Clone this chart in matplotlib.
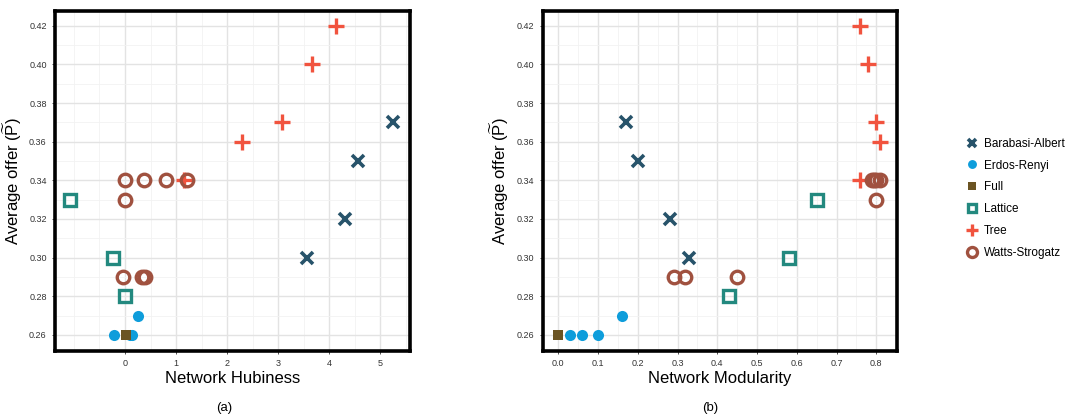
import matplotlib
matplotlib.use('Agg')
import matplotlib.pyplot as plt
from matplotlib.ticker import MultipleLocator, FixedLocator, FormatStrFormatter

plt.rcParams['font.family'] = ['Liberation Sans', 'DejaVu Sans']
plt.rcParams['mathtext.fontset'] = 'custom'
plt.rcParams['mathtext.rm'] = 'Liberation Sans'
plt.rcParams['mathtext.it'] = 'Liberation Sans'

categories = ['Barabasi-Albert', 'Erdos-Renyi', 'Full', 'Lattice', 'Tree', 'Watts-Strogatz']

# hubiness (panel a)
ba_hub = [3.57, 4.31, 4.57, 5.25]
er_hub = [-0.22, 0.10, 0.14, 0.25]
full_hub = [0.01]
lat_hub = [-1.07, -0.24, 0.0]
tree_hub = [1.16, 2.30, 3.07, 3.67, 4.14]
ws_hub = [0.0, 0.37, 0.80, 1.21, 0.0, -0.03, 0.33, 0.40]

# modularity (panel b)
ba_mod = [0.33, 0.28, 0.20, 0.17]
er_mod = [0.03, 0.06, 0.10, 0.16]
full_mod = [0.0]
lat_mod = [0.65, 0.58, 0.43]
tree_mod = [0.76, 0.81, 0.80, 0.78, 0.76]
ws_mod = [0.79, 0.795, 0.80, 0.81, 0.80, 0.29, 0.32, 0.45]

# average offer
ba_y = [0.30, 0.32, 0.35, 0.37]
er_y = [0.26, 0.26, 0.26, 0.27]
full_y = [0.26]
lat_y = [0.33, 0.30, 0.28]
tree_y = [0.34, 0.36, 0.37, 0.40, 0.42]
ws_y = [0.34, 0.34, 0.34, 0.34, 0.33, 0.29, 0.29, 0.29]

hub_ticks = [0, 1, 2, 3, 4, 5]

colors = ['#27536A', '#0E9DDB', '#6B5423', '#23897F', '#F1533E', '#A0513F']
styles = [
    dict(marker='x', ms=8, mew=2.6, mfc='none'),
    dict(marker='o', ms=8, mew=0),
    dict(marker='s', ms=7.5, mew=0),
    dict(marker='s', ms=8, mew=2.4, mfc='none'),
    dict(marker='+', ms=11, mew=2.4),
    dict(marker='o', ms=9, mew=2.4, mfc='none'),
]

hub_x = [ba_hub, er_hub, full_hub, lat_hub, tree_hub, ws_hub]
mod_x = [ba_mod, er_mod, full_mod, lat_mod, tree_mod, ws_mod]
ys = [ba_y, er_y, full_y, lat_y, tree_y, ws_y]

fig = plt.figure(figsize=(10.83, 4.16), dpi=100)
ax1 = fig.add_axes([0.0508, 0.156, 0.3278, 0.8173])
ax2 = fig.add_axes([0.5011, 0.156, 0.3272, 0.8173])

handles = []
for ax, xs in [(ax1, hub_x), (ax2, mod_x)]:
    for i, name in enumerate(categories):
        st = dict(styles[i])
        if st.get('mfc') != 'none':
            st['mfc'] = colors[i]
        h, = ax.plot(xs[i], ys[i], linestyle='none', color=colors[i],
                     mec=colors[i], label=name, zorder=3, **st)
        if ax is ax1:
            handles.append(h)
    ax.set_ylim(0.2516, 0.4276)
    ax.yaxis.set_major_locator(MultipleLocator(0.02))
    ax.yaxis.set_minor_locator(MultipleLocator(0.01))
    ax.yaxis.set_major_formatter(FormatStrFormatter('%.2f'))
    ax.grid(True, which='major', color='#E3E3E3', lw=1.0, zorder=0)
    ax.grid(True, which='minor', color='#F2F2F2', lw=0.6, zorder=0)
    ax.set_axisbelow(True)
    for sp in ax.spines.values():
        sp.set_linewidth(2.6)
        sp.set_color('black')
    ax.tick_params(which='major', labelsize=6.5, length=2.5, width=0.6,
                   color='#333333', labelcolor='#333333')
    ax.tick_params(which='minor', length=0)
    ax.set_ylabel(r'Average offer ($\widetilde{\mathrm{P}}$)', fontsize=12, labelpad=4)

ax1.set_xlim(-1.37, 5.58)
ax1.xaxis.set_major_locator(FixedLocator(hub_ticks))
ax1.xaxis.set_minor_locator(MultipleLocator(0.5))
ax1.set_xlabel('Network Hubiness', fontsize=12, labelpad=2)

ax2.set_xlim(-0.039, 0.852)
ax2.xaxis.set_major_locator(MultipleLocator(0.1))
ax2.xaxis.set_minor_locator(MultipleLocator(0.05))
ax2.xaxis.set_major_formatter(FormatStrFormatter('%.1f'))
ax2.set_xlabel('Network Modularity', fontsize=12, labelpad=2)

fig.legend(handles=handles, loc='center left', bbox_to_anchor=(0.881, 0.5235),
           frameon=False, fontsize=8.5, handletextpad=0.45, labelspacing=0.83,
           handlelength=1.2, markerscale=0.8)

fig.text(0.2068, 0.012, '(a)', ha='center', fontsize=9.5)
fig.text(0.6556, 0.012, '(b)', ha='center', fontsize=9.5)

fig.savefig('out.png', dpi=100)
